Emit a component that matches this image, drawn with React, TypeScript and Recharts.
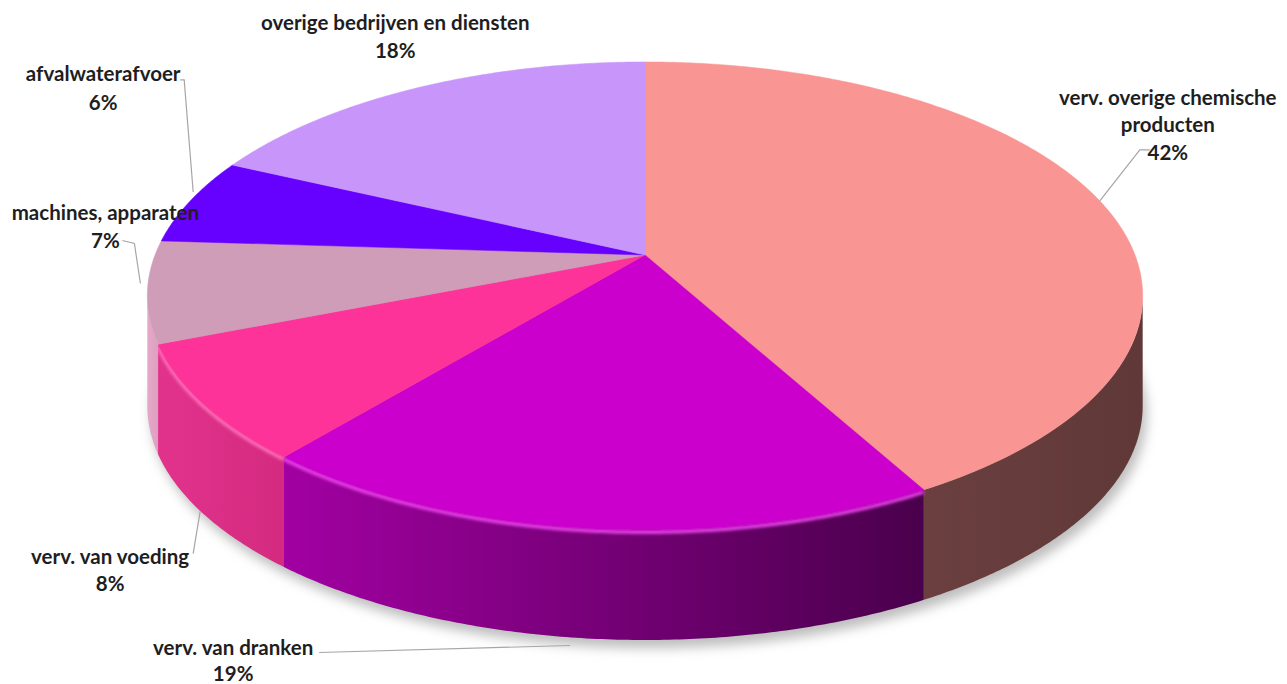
import React from 'react';
import { PieChart, Pie, Cell } from 'recharts';

// ---- data ----
const categories: string[] = [
  'verv. overige chemische producten',
  'verv. van dranken',
  'verv. van voeding',
  'machines, apparaten',
  'afvalwaterafvoer',
  'overige bedrijven en diensten',
];
const shares: number[] = [42, 19, 8, 7, 6, 18];
const labelLines: string[][] = [
  ['verv. overige chemische', 'producten'],
  ['verv. van dranken'],
  ['verv. van voeding'],
  ['machines, apparaten'],
  ['afvalwaterafvoer'],
  ['overige bedrijven en diensten'],
];

// ---- styles ----
const topColors = ['#F99593', '#CC00CC', '#FD3399', '#D09DB8', '#6600FF', '#C896FA'];
const sideFrom = ['#6B3F3F', '#A200A2', '#E2338C', '#E6A8C8', '#5200CC', '#A078C8'];
const sideTo = ['#603838', '#4A004C', '#D42A80', '#DDA0C0', '#4A00B8', '#9070B8'];
const highlight = ['none', '#E83CE8', '#FF6AB8', 'none', 'none', 'none'];

// label layout relative to the rim anchor at each slice's mid angle
const labelLayout: { dx: number; dy: number; gap: number; line: number[][] }[] = [
  { dx: 68, dy: -104, gap: 27.5, line: [[0, 0], [40, -51], [50, -51]] },
  { dx: -356, dy: 118, gap: 26, line: [[-19, 117], [-270, 124]] },
  { dx: -93, dy: 152, gap: 27, line: [[-3, 108], [-10, 150]] },
  { dx: -42, dy: -79, gap: 28, line: [[-7, -8], [-13, -48], [-25, -51]] },
  { dx: -87, dy: -128, gap: 29, line: [[3, -9], [-6, -121], [-10, -121]] },
  { dx: -21, dy: -66, gap: 28, line: [] },
];

const data = categories.map((name, i) => ({ name, value: shares[i] }));

const TILT = 0.463;
const K = 0.175;
const DEPTH = 110;
const VIS_A = (Math.acos(-K) * 180) / Math.PI; // ~100 deg
const VIS_B = 360 - VIS_A;

function proj(cx: number, cy: number, r: number, theta: number): [number, number] {
  const t = (theta * Math.PI) / 180;
  const u = Math.sin(t);
  const v = -Math.cos(t);
  const d = 1 - K * v;
  return [cx + (r * u) / d, cy + (r * TILT * v) / d];
}

function arcPts(cx: number, cy: number, r: number, a: number, b: number, dy = 0): [number, number][] {
  const n = Math.max(2, Math.ceil(Math.abs(b - a) / 0.5));
  const pts: [number, number][] = [];
  for (let i = 0; i <= n; i++) {
    const th = a + ((b - a) * i) / n;
    const [x, y] = proj(cx, cy, r, th);
    pts.push([x, y + dy]);
  }
  return pts;
}

const toPath = (pts: [number, number][]) =>
  pts.map((p, i) => `${i === 0 ? 'M' : 'L'}${p[0].toFixed(2)},${p[1].toFixed(2)}`).join(' ');

const FONT = 'Lato, "Open Sans", sans-serif';

function Slice3D(props: any) {
  const { cx, cy, outerRadius, startAngle, endAngle, index } = props;
  const r = outerRadius;
  const ts = 90 - startAngle;
  const te = 90 - endAngle;
  const top = arcPts(cx, cy, r, ts, te);
  const topPath = `M${cx},${cy} ` + toPath(top).replace(/^M/, 'L') + ' Z';

  const a = Math.max(ts, VIS_A);
  const b = Math.min(te, VIS_B);
  let sidePath = '';
  let hlPath = '';
  if (a < b) {
    const upper = arcPts(cx, cy, r, a, b);
    const lower = arcPts(cx, cy, r, a, b, DEPTH).reverse();
    sidePath = toPath([...upper, ...lower]) + ' Z';
    hlPath = toPath(arcPts(cx, cy, r, a, b, 2));
  }

  return (
    <g>
      {index === 0 && (
        <path
          d={toPath(arcPts(cx, cy, r, 0, 360, DEPTH + 4)) + ' Z'}
          transform="translate(4,4)"
          fill="#BDBDBD"
          filter="url(#pieShadow)"
        />
      )}
      {sidePath && <path d={sidePath} fill={`url(#side${index})`} stroke="none" />}
      {hlPath && highlight[index] !== 'none' && (
        <path d={hlPath} fill="none" stroke={highlight[index]} strokeWidth={4} filter="url(#soft)" />
      )}
      <path d={topPath} fill={topColors[index]} stroke={topColors[index]} strokeWidth={0.5} />
    </g>
  );
}

function SliceLabel(props: any) {
  const { cx, cy, outerRadius, midAngle, percent, index } = props;
  const [ax, ay] = proj(cx, cy, outerRadius, 90 - midAngle);
  const lay = labelLayout[index];
  const lines = [...labelLines[index], `${Math.round(percent * 100)}%`];
  return (
    <g>
      {lay.line.length > 0 && (
        <polyline
          points={lay.line.map((p) => `${ax + p[0]},${ay + p[1]}`).join(' ')}
          fill="none"
          stroke="#A6A6A6"
          strokeWidth={1.2}
        />
      )}
      {lines.map((t, i) => (
        <text
          key={i}
          x={ax + lay.dx}
          y={ay + lay.dy + i * lay.gap}
          textAnchor="middle"
          dominantBaseline="central"
          fontFamily={FONT}
          fontWeight={700}
          fontSize={20.5}
          fill="#1E1E1E"
        >
          {t}
        </text>
      ))}
    </g>
  );
}

export default function App() {
  const common = {
    data,
    dataKey: 'value',
    nameKey: 'name',
    cx: 645,
    cy: 255,
    outerRadius: 490,
    startAngle: 90,
    endAngle: -270,
    stroke: 'none',
    isAnimationActive: false,
    labelLine: false,
  };
  return (
    <div style={{ position: 'absolute', left: 0, top: 0, background: '#fff' }}>
      <PieChart width={1287} height={684} margin={{ top: 0, right: 0, bottom: 0, left: 0 }}>
        <defs>
          <filter id="pieShadow" x="-20%" y="-20%" width="140%" height="140%">
            <feGaussianBlur stdDeviation="6" />
          </filter>
          <filter id="soft" x="-5%" y="-50%" width="110%" height="200%">
            <feGaussianBlur stdDeviation="1.5" />
          </filter>
          {categories.map((_, i) => (
            <linearGradient key={i} id={`side${i}`} x1="0" y1="0" x2="1" y2="0">
              <stop offset="0%" stopColor={sideFrom[i]} />
              <stop offset="100%" stopColor={sideTo[i]} />
            </linearGradient>
          ))}
        </defs>
        <Pie {...common} label={Slice3D}>
          {data.map((_, i) => (
            <Cell key={i} fill="transparent" stroke="none" />
          ))}
        </Pie>
        <Pie {...common} label={SliceLabel}>
          {data.map((_, i) => (
            <Cell key={i} fill="transparent" stroke="none" />
          ))}
        </Pie>
      </PieChart>
    </div>
  );
}
